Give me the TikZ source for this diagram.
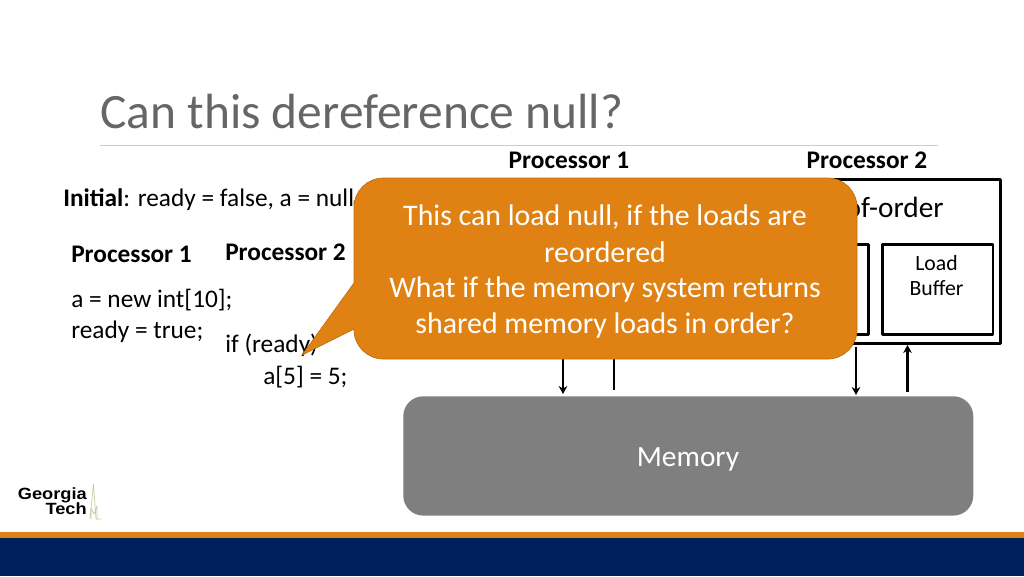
\documentclass[tikz,border=0pt]{standalone}
\usepackage{fontspec}
\usetikzlibrary{arrows.meta}
\setmainfont{Carlito}
\newfontfamily\logofont[FakeStretch=1.12]{Liberation Sans}
\definecolor{gtorange}{HTML}{E08213}
\definecolor{gtnavy}{HTML}{00205B}
\definecolor{gtgray}{HTML}{7F7F7F}
\definecolor{titlegray}{HTML}{666666}
\definecolor{towerkhaki}{HTML}{C9C7A0}
\tikzset{
	codetext/.style={inner sep=0pt,anchor=west,font=\fontsize{19}{22}\selectfont,align=left},
	proclabel/.style={inner sep=0pt,font=\fontsize{19}{22}\selectfont\bfseries},
	procbox/.style={draw=black,line width=2.1pt,anchor=north west,inner sep=0pt},
	bufferbox/.style={draw=black,line width=2.1pt,anchor=north west,inner sep=0pt},
	callout/.style={fill=gtorange,draw=gtorange!85!black,line width=0.5pt},
	calloutline/.style={inner sep=0pt,text=white,font=\fontsize{22.4}{27}\selectfont,align=center},
	logoline/.style={inner sep=0pt,anchor=base east,text height=7pt,text depth=0pt,text=black,font=\logofont\bfseries\fontsize{12.2}{14}\selectfont},
	bus/.style={line width=1.9pt,-{Stealth[length=6pt,width=6.5pt]}}
}
\begin{document}
\begin{tikzpicture}[x=0.75pt,y=-0.75pt,line join=round,>=stealth]
	\useasboundingbox (0,0) rectangle (1024,576);
	\fill[gtorange] (0,532) rectangle (1024,538);
	\fill[gtnavy] (0,538) rectangle (1024,576);
	\node[inner sep=0pt,anchor=west,text=titlegray,font=\fontsize{37.1}{40}\selectfont] (title) at (100,112) {Can this dereference null?};
	\coordinate (ruleleft) at (100,145.5);
	\coordinate (ruleright) at (938,145.5);
	\draw[black!20,line width=0.8pt] (ruleleft)--(ruleright);
	\node[proclabel] (cpuone) at (569,160) {Processor 1};
	\node[proclabel] (cputwo) at (867,160) {Processor 2};
	\node[codetext] (initial) at (63,199.5) {\textbf{Initial}: ready = false, a = null};
	\node[proclabel,anchor=west] (threadone) at (71,254) {Processor 1};
	\node[proclabel,anchor=west] (threadtwo) at (225,252) {Processor 2};
	\node[codetext] (writea) at (71,300) {a = new int[10];};
	\node[codetext] (writeready) at (71,331.5) {ready = true;};
	\node[codetext] (ifready) at (225,345) {if (ready)};
	\node[codetext] (reada) at (263,377) {a[5] = 5;};
	% processors and their buffers
	\node[procbox,minimum width=192pt,minimum height=123pt] (boxone) at (458,178) {};
	\node[procbox,minimum width=199pt,minimum height=123pt] (boxtwo) at (734,178) {};
	\node[inner sep=0pt,anchor=east,font=\fontsize{22}{24}\selectfont] (ooo) at (944,207.5) {Out-of-order};
	\node[bufferbox,minimum width=75pt,minimum height=67.5pt] (storebuf) at (767,243) {};
	\node[bufferbox,minimum width=83pt,minimum height=67.5pt] (loadbuf) at (881,243) {};
	\node[inner sep=0pt,align=center,font=\fontsize{16.3}{19}\selectfont] (loadtext) at (936.5,275.5) {Load\\Buffer};
	% memory
	\node[fill=gtgray,rounded corners=15pt,minimum width=427.5pt,minimum height=89.5pt,inner sep=0pt,anchor=north west] (mem) at (403,396) {};
	\node[inner sep=0pt,text=white,font=\fontsize{22}{24}\selectfont] (memtext) at (688,459) {Memory};
	\coordinate (aone) at (563,340);
	\coordinate (atwo) at (563,394);
	\coordinate (bone) at (614,390);
	\coordinate (btwo) at (614,340);
	\coordinate (cone) at (856,347);
	\coordinate (ctwo) at (856,395);
	\coordinate (done) at (907.5,392);
	\coordinate (dtwo) at (907.5,345);
	\draw[bus] (aone)--(atwo);
	\draw[bus] (bone)--(btwo);
	\draw[bus] (cone)--(ctwo);
	\draw[bus] (done)--(dtwo);
	% callout on top
	\draw[callout] (354,283)--(302,355)--(354,329)[rounded corners=22pt]--(354,359)--(857,359)--(857,178)--(354,178)--(354,230)[sharp corners]--cycle;
	\node[calloutline] (sayone) at (605,217.5) {This can load null, if the loads are};
	\node[calloutline] (saytwo) at (605,252.5) {reordered};
	\node[calloutline] (saythree) at (605,290) {What if the memory system returns};
	\node[calloutline] (sayfour) at (605,325.5) {shared memory loads in order?};
	% logo
	\node[logoline] (logoone) at (87,499.5) {Georgia};
	\node[logoline] (logotwo) at (87,514.5) {Tech};
	\draw[towerkhaki,line width=0.5pt] (90,519)--(93.5,484)--(96,519)--(101,519);
	\draw[towerkhaki,line width=0.5pt] (91,519)--(91,508)--(94,514)--(97,506)--(97,519);
\end{tikzpicture}
\end{document}
